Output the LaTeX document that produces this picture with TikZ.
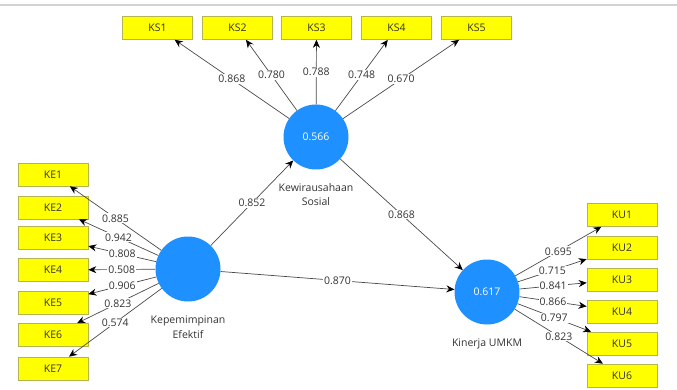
\documentclass[tikz,border=0pt]{standalone}
\usepackage{fontspec}
\setmainfont{Open Sans}
\usetikzlibrary{positioning, arrows.meta}
\definecolor{clrindicator}{HTML}{FFFF00}
\definecolor{clrindborder}{HTML}{B4B450}
\definecolor{clrconstruct}{HTML}{1E90FF}
\definecolor{clrpath}{HTML}{4A4A4A}
\definecolor{clrtext}{HTML}{333333}
\definecolor{clrframe}{HTML}{D2D2D2}

\begin{document}
\begin{tikzpicture}[
    x=1pt, y=-1pt,
    every node/.style={font=\fontsize{10.5}{14.5}\selectfont},
    indicator/.style={draw=clrindborder, fill=clrindicator, minimum width=70pt,
                      minimum height=23pt, inner sep=0pt, text=clrtext, line width=0.6pt},
    construct/.style={circle, fill=clrconstruct, minimum size=65pt, inner sep=0pt, text=white},
    arrow/.style={-{Stealth[length=8pt, width=7pt, color=black]}, color=clrpath, line width=0.7pt},
    coef/.style={fill=white, inner sep=1pt, text=clrtext},
    caption/.style={align=center, text=clrtext},
]
\useasboundingbox (0,0) rectangle (677,390);
\draw[clrframe, line width=1.2pt] (0,5) -- (677,5);
% latent variables
\node[construct] (lv_ks) at (316,137) {0.566};
\node[construct] (lv_ke) at (188,269) {};
\node[construct] (lv_ku) at (487,292) {0.617};
\node[caption, below=10pt of lv_ks] (cap_ks) {Kewirausahaan\\Sosial};
\node[caption, below=11pt of lv_ke] (cap_ke) {Kepemimpinan\\Efektif};
\node[caption, below=11pt of lv_ku] (cap_ku) {Kinerja UMKM};
% indicators
\node[indicator] (ks_1) at (157.5,28) {KS1};
\node[indicator] (ks_2) at (237.5,28) {KS2};
\node[indicator] (ks_3) at (316.5,28) {KS3};
\node[indicator] (ks_4) at (396.5,28) {KS4};
\node[indicator] (ks_5) at (476.5,28) {KS5};
\node[indicator] (ke_1) at (53,174.5) {KE1};
\node[indicator] (ke_2) at (53,207.5) {KE2};
\node[indicator] (ke_3) at (53,238) {KE3};
\node[indicator] (ke_4) at (53,270) {KE4};
\node[indicator] (ke_5) at (53,303) {KE5};
\node[indicator] (ke_6) at (53,335) {KE6};
\node[indicator] (ke_7) at (53,368.5) {KE7};
\node[indicator] (ku_1) at (622,215) {KU1};
\node[indicator] (ku_2) at (622,247.5) {KU2};
\node[indicator] (ku_3) at (622,279.5) {KU3};
\node[indicator] (ku_4) at (622,311.5) {KU4};
\node[indicator] (ku_5) at (622,343.5) {KU5};
\node[indicator] (ku_6) at (622,375.5) {KU6};
% outer loadings
\draw[arrow] (lv_ks) -- node[coef] {0.868} (ks_1);
\draw[arrow] (lv_ks) -- node[coef] {0.780} (ks_2);
\draw[arrow] (lv_ks) -- node[coef] {0.788} (ks_3);
\draw[arrow] (lv_ks) -- node[coef] {0.748} (ks_4);
\draw[arrow] (lv_ks) -- node[coef] {0.670} (ks_5);
\draw[arrow] (lv_ke) -- node[coef] {0.885} (ke_1);
\draw[arrow] (lv_ke) -- node[coef] {0.942} (ke_2);
\draw[arrow] (lv_ke) -- node[coef] {0.808} (ke_3);
\draw[arrow] (lv_ke) -- node[coef] {0.508} (ke_4);
\draw[arrow] (lv_ke) -- node[coef] {0.906} (ke_5);
\draw[arrow] (lv_ke) -- node[coef] {0.823} (ke_6);
\draw[arrow] (lv_ke) -- node[coef] {0.574} (ke_7);
\draw[arrow] (lv_ku) -- node[coef] {0.695} (ku_1);
\draw[arrow] (lv_ku) -- node[coef] {0.715} (ku_2);
\draw[arrow] (lv_ku) -- node[coef] {0.841} (ku_3);
\draw[arrow] (lv_ku) -- node[coef] {0.866} (ku_4);
\draw[arrow] (lv_ku) -- node[coef] {0.797} (ku_5);
\draw[arrow] (lv_ku) -- node[coef] {0.823} (ku_6);
% path coefficients
\draw[arrow] (lv_ke) -- node[coef] {0.852} (lv_ks);
\draw[arrow] (lv_ks) -- node[coef] {0.868} (lv_ku);
\draw[arrow] (lv_ke) -- node[coef] {0.870} (lv_ku);
\end{tikzpicture}
\end{document}
